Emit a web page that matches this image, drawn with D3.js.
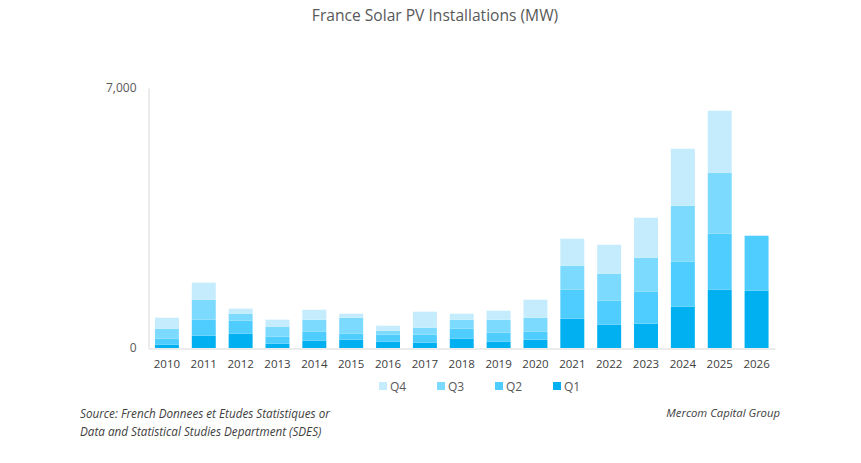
<!DOCTYPE html>
<html><head><meta charset="utf-8">
<script src="https://cdn.jsdelivr.net/npm/d3@7"></script>
<style>body{margin:0;background:#fff;} text{font-family:"Open Sans",sans-serif;}</style>
</head><body>
<svg id="chart" width="861" height="463"></svg>
<script>
const years = ["2010","2011","2012","2013","2014","2015","2016","2017","2018","2019","2020","2021","2022","2023","2024","2025","2026"];
const q1 = [90,332,386,117,197,224,170,144,251,170,224,790,628,655,1112,1570,1543];
const q2 = [161,431,350,188,242,161,188,215,269,242,215,780,646,861,1211,1507,1480];
const q3 = [269,538,188,269,323,431,108,188,242,350,377,646,727,915,1507,1642,0];
const q4 = [296,458,135,188,269,108,135,431,161,242,484,727,780,1077,1534,1669,0];
const seriesNames = ["Q1","Q2","Q3","Q4"];
const yTicks = [0,7000];
const colors = {Q1:"#00B0F0",Q2:"#4FCDFF",Q3:"#7DDAFF",Q4:"#C4ECFD"};

const rows = years.map((y,i)=>({year:y,Q1:q1[i],Q2:q2[i],Q3:q3[i],Q4:q4[i]}));
const svg = d3.select("#chart");
const x = d3.scaleBand().domain(years).range([148.5,775]).paddingInner(0.35).paddingOuter(0.175);
const y = d3.scaleLinear().domain([0,7000]).range([348,88]);
const stack = d3.stack().keys(seriesNames)(rows);

svg.append("text").attr("x",435).attr("y",21).attr("text-anchor","middle")
  .attr("font-size",15.6).attr("fill","#595959").text("France Solar PV Installations (MW)");

svg.append("g").selectAll("g").data(stack).join("g").attr("fill",d=>colors[d.key])
  .selectAll("rect").data(d=>d).join("rect")
  .attr("x",d=>x(d.data.year)).attr("width",x.bandwidth())
  .attr("y",d=>y(d[1])).attr("height",d=>Math.max(0,y(d[0])-y(d[1])));

// axes
const yAxis = d3.axisLeft(y).tickValues(yTicks).tickSize(0).tickPadding(12).tickFormat(d3.format(","));
const gy = svg.append("g").attr("transform","translate(148.5,0)").call(yAxis);
gy.select(".domain").attr("stroke","#d9d9d9");
gy.selectAll("text").attr("font-size",12).attr("fill","#595959").attr("font-family","Open Sans");

const xAxis = d3.axisBottom(x).tickSize(0).tickPadding(11);
const gx = svg.append("g").attr("transform","translate(0,348.5)").call(xAxis);
gx.select(".domain").attr("stroke","#d9d9d9").attr("stroke-width",1.2);
gx.selectAll("text").attr("font-size",11.5).attr("fill","#404040").attr("font-family","Open Sans");

// legend
const legendOrder = ["Q4","Q3","Q2","Q1"];
const lg = svg.append("g");
legendOrder.forEach((k,i)=>{
  const lx = 379 + i*58;
  lg.append("rect").attr("x",lx).attr("y",382).attr("width",8).attr("height",8).attr("fill",colors[k]);
  lg.append("text").attr("x",lx+11).attr("y",390.5).attr("font-size",12).attr("fill","#595959").text(k);
});

svg.append("text").attr("x",80).attr("y",418).attr("font-size",11.7).attr("font-style","italic").attr("fill","#404040")
  .text("Source: French Donnees et Etudes Statistiques or");
svg.append("text").attr("x",80).attr("y",436).attr("font-size",11.7).attr("font-style","italic").attr("fill","#404040")
  .text("Data and Statistical Studies Department (SDES)");
svg.append("text").attr("x",780).attr("y",417).attr("text-anchor","end").attr("font-size",11.3).attr("font-style","italic").attr("fill","#404040")
  .text("Mercom Capital Group");
</script>
</body></html>
